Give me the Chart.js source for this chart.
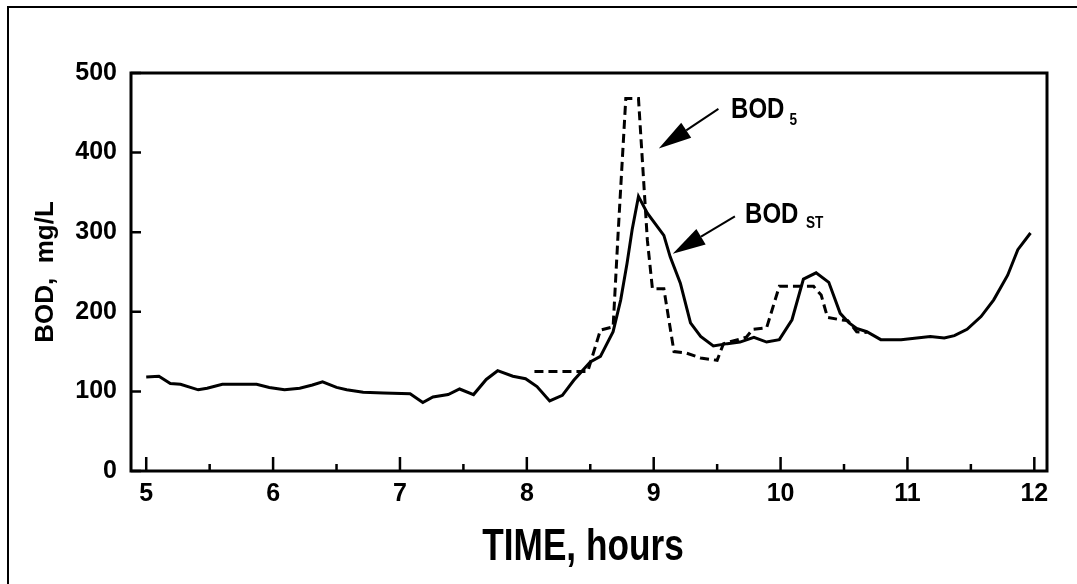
<!DOCTYPE html>
<html>
<head>
<meta charset="utf-8">
<script src="https://cdn.jsdelivr.net/npm/chart.js@4.4.1/dist/chart.umd.min.js"></script>
<style>
  html, body { margin: 0; padding: 0; background: #fff; overflow: hidden; }
</style>
</head>
<body>
<canvas id="bod" width="1077" height="584"></canvas>
<script>
// BOD_ST (solid line), time in hours / value in mg/L
const stTime = [5.0, 5.1, 5.19, 5.27, 5.41, 5.48, 5.6, 5.87, 5.97, 6.09, 6.21, 6.31, 6.39, 6.5, 6.58, 6.71, 6.87, 7.08,
  7.18, 7.26, 7.38, 7.47, 7.58, 7.68, 7.77, 7.89, 7.99, 8.08, 8.18, 8.28, 8.37, 8.5, 8.58, 8.68, 8.74, 8.79, 8.83, 8.88,
  8.95, 9.08, 9.13, 9.21, 9.29, 9.37, 9.47, 9.58, 9.68, 9.79, 9.89, 9.99, 10.09, 10.18, 10.28, 10.38, 10.47, 10.54,
  10.6, 10.68, 10.79, 10.95, 11.18, 11.29, 11.37, 11.47, 11.58, 11.68, 11.79, 11.87, 11.97];
const stValues = [118, 119, 110, 109, 102, 104, 109, 109, 105, 102, 104, 108, 112, 105, 102, 99, 98, 97,
  86, 93, 96, 103, 96, 115, 126, 119, 116, 106, 88, 95, 114, 137, 144, 175, 215, 261, 303, 345,
  324, 296, 269, 236, 186, 169, 157, 160, 162, 168, 162, 165, 190, 241, 249, 237, 198, 186,
  179, 175, 165, 165, 169, 167, 170, 178, 194, 215, 246, 278, 299];

// BOD5 (dashed line)
const bod5Time = [8.06, 8.48, 8.58, 8.68, 8.72, 8.78, 8.88, 8.95, 8.99, 9.08, 9.16, 9.26, 9.37, 9.5, 9.55, 9.73,
  9.78, 9.89, 9.99, 10.26, 10.32, 10.37, 10.47, 10.53, 10.6, 10.68];
const bod5Values = [125, 125, 177, 181, 300, 468, 468, 290, 229, 229, 150, 148, 142, 139, 160, 168,
  178, 180, 232, 232, 221, 193, 190, 189, 175, 174];

const hourTicks = [5, 6, 7, 8, 9, 10, 11, 12];
const halfHourTicks = [5.5, 6.5, 7.5, 8.5, 9.5, 10.5, 11.5];
const bodTicks = [0, 100, 200, 300, 400, 500];

const xTitle = 'TIME, hours';
const yTitle = 'BOD,  mg/L';

const wide = "'Liberation Sans', Arial, sans-serif";

function points(xs, ys) {
  return xs.map((x, i) => ({ x: x, y: ys[i] }));
}

// labels + arrows, placed in data units
const notes = [
  { text: 'BOD', sub: '5', at: [9.61, 444], subAt: [10.07, 435], from: [9.51, 455], to: [9.04, 405] },
  { text: 'BOD', sub: 'ST', at: [9.72, 311], subAt: [10.2, 305], from: [9.64, 320], to: [9.15, 273] }
];

// the original lettering is a condensed bold face, squeeze it sideways
function squeezed(ctx, text, px, py, size, align) {
  ctx.save();
  ctx.translate(px, py);
  ctx.scale(0.8, 1);
  ctx.font = 'bold ' + size + 'px ' + wide;
  ctx.textAlign = align;
  ctx.textBaseline = 'alphabetic';
  ctx.fillText(text, 0, 0);
  ctx.restore();
}

function arrow(ctx, x1, y1, x2, y2) {
  const ang = Math.atan2(y2 - y1, x2 - x1);
  const len = 33, half = 9;
  const bx = x2 - len * Math.cos(ang), by = y2 - len * Math.sin(ang);
  ctx.beginPath();
  ctx.moveTo(x1, y1);
  ctx.lineTo(bx, by);
  ctx.stroke();
  ctx.beginPath();
  ctx.moveTo(x2, y2);
  ctx.lineTo(bx + half * Math.sin(ang), by - half * Math.cos(ang));
  ctx.lineTo(bx - half * Math.sin(ang), by + half * Math.cos(ang));
  ctx.closePath();
  ctx.fill();
}

const framePlugin = {
  id: 'frame',
  beforeDraw(chart) {
    const ctx = chart.ctx;
    ctx.save();
    ctx.lineWidth = 2;
    ctx.strokeStyle = '#000';
    ctx.strokeRect(8, 7, chart.width + 20, chart.height + 20);
    ctx.restore();
  },
  afterDatasetsDraw(chart) {
    const { ctx, chartArea: a, scales: { x, y } } = chart;
    ctx.save();
    ctx.strokeStyle = '#000';
    ctx.fillStyle = '#000';

    ctx.lineWidth = 3;
    ctx.strokeRect(a.left, a.top, a.right - a.left, a.bottom - a.top);

    // ticks point inward
    ctx.lineWidth = 2.5;
    ctx.beginPath();
    hourTicks.forEach(v => {
      const px = x.getPixelForValue(v);
      ctx.moveTo(px, a.bottom);
      ctx.lineTo(px, a.bottom - 14);
    });
    halfHourTicks.forEach(v => {
      const px = x.getPixelForValue(v);
      ctx.moveTo(px, a.bottom);
      ctx.lineTo(px, a.bottom - 7);
    });
    bodTicks.forEach(v => {
      const py = y.getPixelForValue(v);
      ctx.moveTo(a.left, py);
      ctx.lineTo(a.left + 10, py);
    });
    ctx.stroke();

    // x axis title
    squeezed(ctx, xTitle, (a.left + a.right) / 2 - 6, a.bottom + 89, 44, 'center');

    ctx.lineWidth = 2;
    notes.forEach(n => {
      arrow(ctx, x.getPixelForValue(n.from[0]), y.getPixelForValue(n.from[1]),
        x.getPixelForValue(n.to[0]), y.getPixelForValue(n.to[1]));
      squeezed(ctx, n.text, x.getPixelForValue(n.at[0]), y.getPixelForValue(n.at[1]), 30, 'left');
      squeezed(ctx, n.sub, x.getPixelForValue(n.subAt[0]), y.getPixelForValue(n.subAt[1]), 17, 'left');
    });
    ctx.restore();
  }
};

const data = {
  datasets: [
    {
      label: 'BOD ST',
      data: points(stTime, stValues),
      borderColor: '#000',
      borderWidth: 3,
      pointRadius: 0,
      tension: 0
    },
    {
      label: 'BOD 5',
      data: points(bod5Time, bod5Values),
      borderColor: '#000',
      borderWidth: 3,
      borderDash: [9, 5],
      pointRadius: 0,
      tension: 0
    }
  ]
};

const config = {
  type: 'line',
  data: data,
  options: {
    responsive: false,
    animation: false,
    devicePixelRatio: 1,
    layout: { padding: { top: 73, right: 30, bottom: 0, left: 0 } },
    plugins: {
      legend: { display: false },
      tooltip: { enabled: false }
    },
    scales: {
      x: {
        type: 'linear',
        min: 4.88,
        max: 12.1,
        afterFit: s => { s.height = 113; },
        afterBuildTicks: s => { s.ticks = hourTicks.map(v => ({ value: v })); },
        grid: { display: false, drawTicks: false },
        border: { display: false },
        ticks: {
          color: '#000',
          padding: 8,
          maxRotation: 0,
          autoSkip: false,
          font: { family: wide, size: 25, weight: 'bold' }
        }
      },
      y: {
        min: 0,
        max: 500,
        afterFit: s => { s.width = 131; },
        afterBuildTicks: s => { s.ticks = bodTicks.map(v => ({ value: v })); },
        grid: { display: false, drawTicks: false },
        border: { display: false },
        ticks: {
          color: '#000',
          padding: 14,
          font: { family: wide, size: 25, weight: 'bold' }
        },
        title: {
          display: true,
          text: yTitle,
          color: '#000',
          padding: { top: 33, bottom: 0 },
          font: { family: wide, size: 26, weight: 'bold', lineHeight: 1 }
        }
      }
    }
  },
  plugins: [framePlugin]
};

new Chart(document.getElementById('bod').getContext('2d'), config);
</script>
</body>
</html>
